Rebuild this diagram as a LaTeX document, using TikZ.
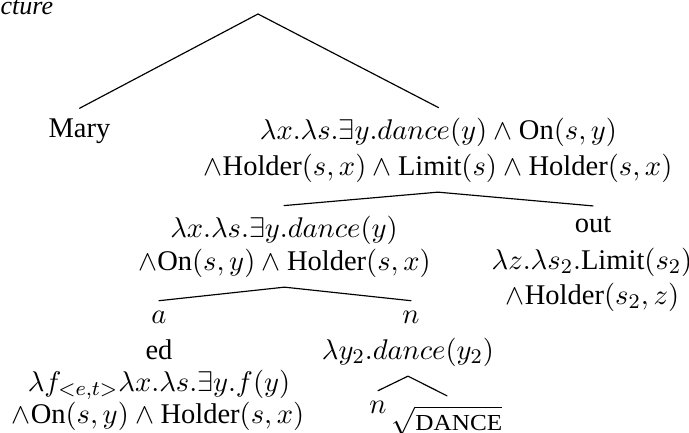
\documentclass[tikz,border=0pt,11pt]{standalone}
\usepackage{amsmath}
\usepackage{graphicx}
\usepackage[no-math]{fontspec}
\setmainfont{Liberation Serif}
\newcommand{\smcap}[1]{\text{\fontsize{8.8}{10}\selectfont\scalebox{1.1}[1]{#1}}}
\begin{document}
\begin{tikzpicture}[x=0.384pt,y=-0.384pt,
  lbl/.style={anchor=base},
  edge/.style={line width=0.45pt, line cap=round}]
\useasboundingbox (0,0) rectangle (689,432);
% title (cut off at the left edge)
\node[anchor=base west, inner sep=0, font=\small\itshape] (title) at (0,14) {cture};
% root
\coordinate (root) at (258,14);
\node[lbl] (mary) at (79.5,137) {Mary};
\node[lbl] (vpA1) at (438.5,139) {$\lambda x.\lambda s.\exists y.dance(y)\wedge\text{On}(s,y)$};
\node[lbl] (vpA2) at (438,175) {$\wedge\text{Holder}(s,x)\wedge\text{Limit}(s)\wedge\text{Holder}(s,x)$};
% second level
\node[lbl] (vB1) at (284,237) {$\lambda x.\lambda s.\exists y.dance(y)$};
\node[lbl] (vB2) at (284.5,270) {$\wedge\text{On}(s,y)\wedge\text{Holder}(s,x)$};
\node[lbl] (out1) at (593,232) {out};
\node[lbl] (out2) at (592,269) {$\lambda z.\lambda s_2.\text{Limit}(s_2)$};
\node[lbl] (out3) at (592.5,304) {$\wedge\text{Holder}(s_2,z)$};
% third level
\node[lbl] (a) at (159,323) {$a$};
\node[lbl] (n1) at (411,323) {$n$};
\node[lbl] (ed1) at (159,359) {ed};
\node[lbl] (ed2) at (159,391) {$\lambda f_{<e,t>}\lambda x.\lambda s.\exists y.f(y)$};
\node[lbl] (ed3) at (158,423) {$\wedge\text{On}(s,y)\wedge\text{Holder}(s,x)$};
\node[lbl] (nn1) at (408,359) {$\lambda y_2.dance(y_2)$};
% fourth level
\node[lbl] (nn2) at (378,413) {$n$};
\node[lbl] (rt) at (447,430) {$\sqrt{\smcap{DANCE}}$};
% edges
\draw[edge] (mary.north) -- (root) -- (vpA1.north);
\draw[edge] (vB1.north) -- (vpA2.south) -- (out1.north);
\draw[edge] (a.north) -- (vB2.south) -- (n1.north);
\draw[edge] (nn2.north) -- (nn1.south) -- (rt.north);
\end{tikzpicture}
\end{document}
